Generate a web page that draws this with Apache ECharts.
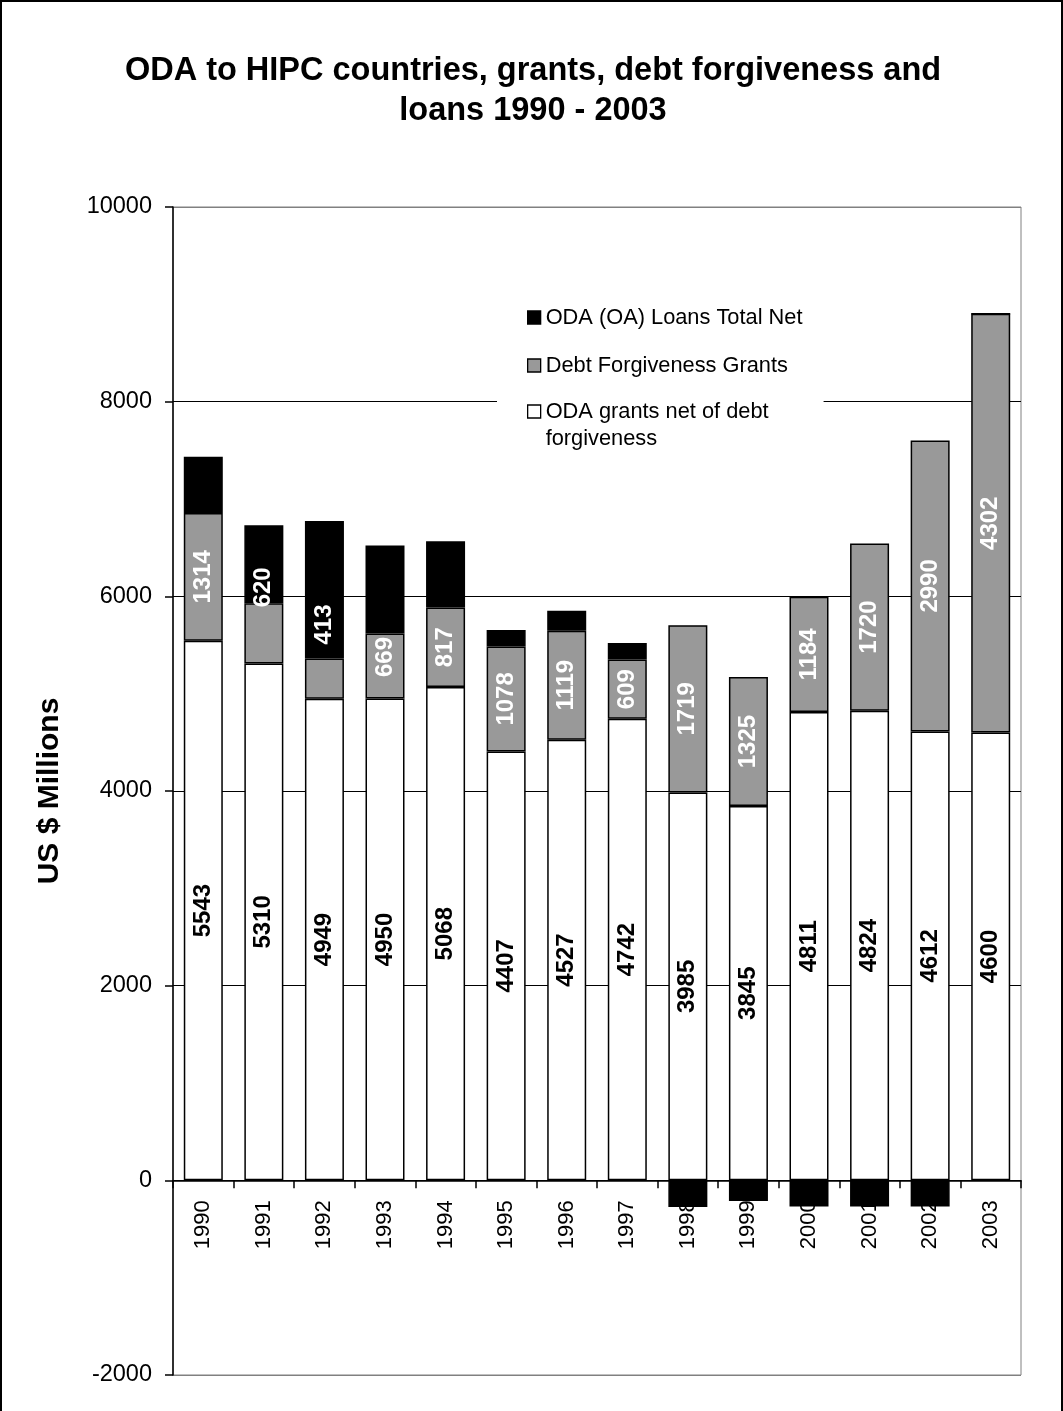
<!DOCTYPE html>
<html>
<head>
<meta charset="utf-8">
<script src="https://cdn.jsdelivr.net/npm/echarts@6/dist/echarts.min.js"></script>
<style>
  html, body { margin: 0; padding: 0; background: #fff; }
  #wrap { position: relative; width: 1063px; height: 1411px; box-sizing: border-box; border-left: 2px solid #000; border-top: 2px solid #000; border-right: 2px solid #000; }
  #chart { position: absolute; left: -2px; top: -2px; width: 1063px; height: 1411px; }
</style>
</head>
<body>
<div id="wrap"><div id="chart"></div></div>
<script>
const years = ['1990','1991','1992','1993','1994','1995','1996','1997','1998','1999','2000','2001','2002','2003'];
const grantsNet = [5543, 5310, 4949, 4950, 5068, 4407, 4527, 4742, 3985, 3845, 4811, 4824, 4612, 4600];
const debtForgiveness = [1314, 620, 413, 669, 817, 1078, 1119, 609, 1719, 1325, 1184, 1720, 2990, 4302];
const loansNet = [577, 800, 1411, 904, 682, 170, 205, 170, -275, -213, -270, -270, -270, 0];
const yTicks = [-2000, 0, 2000, 4000, 6000, 8000, 10000];
const seriesNames = ['ODA (OA) Loans Total Net', 'Debt Forgiveness Grants', 'ODA grants net of debt\nforgiveness'];

const FONT = 'Arial, "Liberation Sans", sans-serif';
// label upward shifts (screen px) for labels Excel moved (style only)
const debtLabelShift = { 1: 46, 2: 54, 3: 9 };

const chart = echarts.init(document.getElementById('chart'), null, { renderer: 'canvas' });

const labelBase = {
  show: true, position: 'inside', rotate: 90,
  fontFamily: FONT, fontWeight: 'bold', fontSize: 24
};

const gridTop = 207, gridBottom = 36, chartH = 1411;
const gridH = chartH - gridTop - gridBottom;
const zeroFromBottom = gridH * (0 - yTicks[0]) / (yTicks[yTicks.length - 1] - yTicks[0]);

const legendText = { fontFamily: FONT, fontSize: 21.8, color: '#000', lineHeight: 27 };

chart.setOption({
  animation: false,
  backgroundColor: 'transparent',
  title: {
    text: 'ODA to HIPC countries, grants, debt forgiveness and\nloans 1990 - 2003',
    left: 528, top: 46,
    textAlign: 'center',
    textStyle: { fontFamily: FONT, fontWeight: 'bold', fontSize: 32.5, lineHeight: 40, color: '#000', align: 'center' }
  },
  legend: [
    {
      orient: 'vertical',
      left: 497, top: 294,
      backgroundColor: '#fff',
      padding: [10, 22, 8, 30],
      itemGap: 21,
      itemWidth: 13, itemHeight: 13,
      data: [
        { name: seriesNames[0], icon: 'rect' },
        { name: seriesNames[1], icon: 'rect' }
      ],
      textStyle: legendText,
      itemStyle: { borderColor: '#000', borderWidth: 1.3 }
    },
    {
      orient: 'vertical',
      left: 497, top: 371,
      backgroundColor: '#fff',
      padding: [0, 55, 0, 30],
      itemWidth: 13, itemHeight: 13,
      data: [ { name: seriesNames[2], icon: 'rect' } ],
      formatter: name => ' \n' + name,
      textStyle: legendText,
      itemStyle: { borderColor: '#000', borderWidth: 1.3 }
    }
  ],
  grid: { left: 173, right: 42, top: gridTop, bottom: gridBottom, show: true, borderColor: '#808080', borderWidth: 1 },
  xAxis: {
    type: 'category',
    data: years,
    offset: -zeroFromBottom,
    axisLine: { onZero: false, lineStyle: { color: '#000', width: 1.5 } },
    axisTick: { show: true, length: 8, lineStyle: { color: '#000', width: 1.5 } },
    axisLabel: { rotate: 90, fontFamily: FONT, fontSize: 22, color: '#000', margin: 20 },
    splitLine: { show: false },
    z: 1
  },
  yAxis: {
    type: 'value',
    min: yTicks[0], max: yTicks[yTicks.length - 1], interval: 2000,
    name: 'US $ Millions',
    nameLocation: 'middle', nameGap: 108, nameRotate: 90,
    nameTextStyle: { fontFamily: FONT, fontWeight: 'bold', fontSize: 30, color: '#000' },
    axisLine: { show: true, lineStyle: { color: '#000', width: 1.5 } },
    axisTick: { show: true, length: 8, lineStyle: { color: '#000', width: 1.5 } },
    axisLabel: { fontFamily: FONT, fontSize: 23.5, color: '#000', margin: 21, formatter: v => String(v) },
    splitLine: { show: true, lineStyle: { color: ['#808080', '#000', '#000', '#000', '#000', '#000', '#808080'], width: 1.2 } }
  },
  series: [
    {
      name: seriesNames[2], type: 'bar', stack: 'total', barWidth: 39,
      itemStyle: { color: '#ffffff', borderColor: '#000', borderWidth: 1.5 },
      label: Object.assign({}, labelBase, { color: '#000' }),
      data: grantsNet, z: 3
    },
    {
      name: seriesNames[1], type: 'bar', stack: 'total', barWidth: 39,
      itemStyle: { color: '#999999', borderColor: '#000', borderWidth: 1.5 },
      data: debtForgiveness.map((v, i) => debtLabelShift[i] !== undefined
        ? { value: v, label: Object.assign({}, labelBase, { color: '#fff', offset: [debtLabelShift[i], 0] }) }
        : { value: v, label: Object.assign({}, labelBase, { color: '#fff' }) }),
      z: 3
    },
    {
      name: seriesNames[0], type: 'bar', stack: 'total', barWidth: 39,
      itemStyle: { color: '#000000', borderColor: '#000', borderWidth: 1.5 },
      label: { show: false },
      data: loansNet, z: 2
    }
  ]
});
</script>
</body>
</html>
